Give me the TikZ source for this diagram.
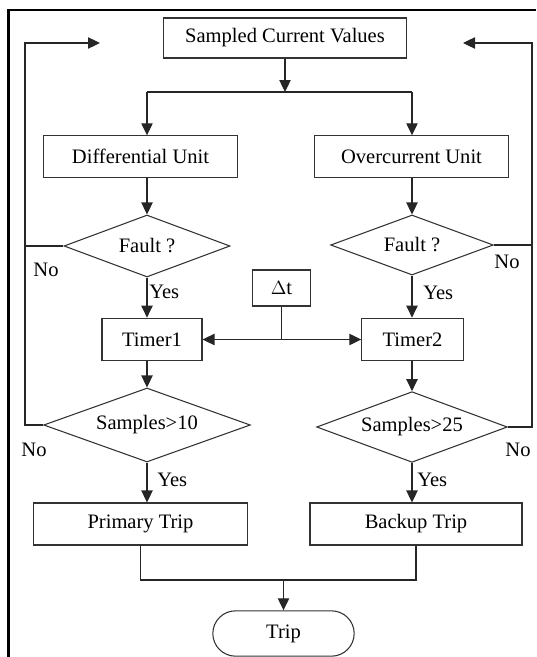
\documentclass[tikz,border=0pt]{standalone}
\usepackage{fontspec}
\setmainfont{Liberation Serif}
\usetikzlibrary{arrows.meta,shapes.geometric}

\begin{document}
\begin{tikzpicture}[x=0.75pt,y=-0.75pt,>={Triangle[length=9pt,width=8.5pt]},
    font=\fontsize{15.4}{18}\selectfont,
    line/.style={draw=black!85,line width=0.9pt},
    block/.style={draw=black!80,line width=0.8pt,rectangle,inner sep=0pt},
    test/.style={draw=black!80,line width=0.8pt,diamond,aspect=2.8,inner sep=0pt},
    lbl/.style={inner sep=0pt}]
  \useasboundingbox (0,0) rectangle (536,657);
  % outer frame: only left and top edges show
  \draw[line width=1.7pt] (8.5,657) -- (8.5,10) -- (536,10);

  % input and split
  \node[block,minimum width=182pt,minimum height=30pt] (sampled) at (285,38) {Sampled Current Values};
  \coordinate (split) at (286,92);
  \coordinate (lc) at (147,92);
  \coordinate (rc) at (412,92);
  \draw[line,->] (sampled.south) -- (sampled.south |- split);
  \draw[line] (lc) -- (rc);

  % left: differential branch
  \node[block,minimum width=145pt,minimum height=31pt] (diff) at (140.5,156.5) {Differential Unit};
  \node[test,minimum width=124.5pt,minimum height=46.5pt] (fault1) at (147,246) {Fault ?};
  \node[block,minimum width=75pt,minimum height=32pt] (timer1) at (152,339.5) {Timer1};
  \node[test,minimum width=155pt,minimum height=55.5pt] (test10) at (147,425) {Samples>10};
  \node[block,minimum width=160pt,minimum height=31.5pt] (primary) at (140.5,524) {Primary Trip};
  \draw[line,->] (lc) -- (lc |- diff.north);
  \draw[line,->] (lc |- diff.south) -- (fault1.north);
  \draw[line,->] (fault1.south) -- (lc |- timer1.north);
  \draw[line,->] (lc |- timer1.south) -- (test10.north);
  \draw[line,->] (test10.south) -- (lc |- primary.north);
  \node[lbl,anchor=west] (yes1) at (149,292) {Yes};
  \node[lbl,anchor=west] (yes3) at (157,480) {Yes};
  \node[lbl] (no1) at (46,270) {No};
  \node[lbl] (no3) at (34,450) {No};

  % right: overcurrent branch
  \node[block,minimum width=146pt,minimum height=31pt] (over) at (411.5,156.5) {Overcurrent Unit};
  \node[test,minimum width=122pt,minimum height=45pt] (fault2) at (412,245) {Fault ?};
  \node[block,minimum width=76pt,minimum height=32pt] (timer2) at (412.5,339.5) {Timer2};
  \node[test,minimum width=143pt,minimum height=53pt] (test25) at (412,427) {Samples>25};
  \node[block,minimum width=159pt,minimum height=31.5pt] (backup) at (416,524) {Backup Trip};
  \draw[line,->] (rc) -- (rc |- over.north);
  \draw[line,->] (rc |- over.south) -- (fault2.north);
  \draw[line,->] (fault2.south) -- (rc |- timer2.north);
  \draw[line,->] (rc |- timer2.south) -- (test25.north);
  \draw[line,->] (test25.south) -- (rc |- backup.north);
  \node[lbl,anchor=west] (yes2) at (423,293) {Yes};
  \node[lbl,anchor=west] (yes4) at (417,480) {Yes};
  \node[lbl] (no2) at (507,262) {No};
  \node[lbl] (no4) at (518,450) {No};

  % delay shared by both timers
  \node[block,minimum width=43pt,minimum height=27pt] (dt) at (281.5,288) {$\Delta$t};
  \coordinate (dtj) at (dt.south |- timer1.east);
  \draw[line] (dt.south) -- (dtj);
  \draw[line,->] (dtj) -- (timer1.east);
  \draw[line,->] (dtj) -- (timer2.west);

  % feedback loops
  \coordinate (lback) at (25,43);
  \coordinate (lhead) at (100,43);
  \coordinate (rback) at (532,43);
  \coordinate (rhead) at (463,43);
  \draw[line,->] (test10.west) -- (test10.west -| lback) -- (lback) -- (lhead);
  \draw[line] (fault1.west) -- (fault1.west -| lback);
  \draw[line,->] (test25.east) -- (test25.east -| rback) -- (rback) -- (rhead);
  \draw[line] (fault2.east) -- (fault2.east -| rback);

  % output
  \node[block,minimum width=106pt,minimum height=34pt,rounded corners=17pt] (trip) at (283.5,633.5) {Trip};
  \coordinate (join) at (283.5,580);
  \draw[line] (primary.south) -- (primary.south |- join) -- (backup.south |- join) -- (backup.south);
  \draw[line,->] (join) -- (trip.north);
\end{tikzpicture}
\end{document}
